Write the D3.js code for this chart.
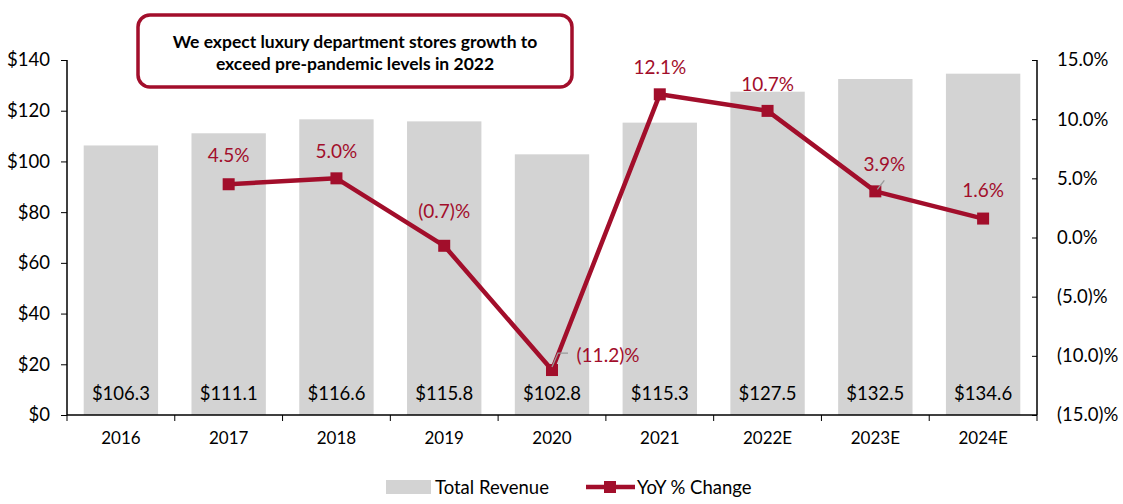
<!DOCTYPE html>
<html><head><meta charset="utf-8">
<script src="https://cdn.jsdelivr.net/npm/d3@7"></script>
<style>body{margin:0;background:#fff;} svg{display:block;} text{font-family:Lato,"Open Sans",sans-serif;}</style>
</head><body><svg id="c" width="1123" height="504"></svg>
<script>
const categories = ["2016","2017","2018","2019","2020","2021","2022E","2023E","2024E"];
const revenue = [106.3,111.1,116.6,115.8,102.8,115.3,127.5,132.5,134.6];
const yoyCats = ["2017","2018","2019","2020","2021","2022E","2023E","2024E"];
const yoy = [4.5,5.0,-0.7,-11.2,12.1,10.7,3.9,1.6];
const leftTicks = [0,20,40,60,80,100,120,140];
const rightTicks = [-15,-10,-5,0,5,10,15];
const calloutLines = ["We expect luxury department stores growth to","exceed pre-pandemic levels in 2022"];

const RED = "#A20E2B", GREY = "#D3D3D3";
const svg = d3.select("#c");
const L = 67, R = 1037, T = 60, B = 415;
const x = d3.scaleBand().domain(categories).range([L,R]).paddingInner(0.31).paddingOuter(0.155);
const xb = d3.scaleBand().domain(categories).range([L,R]);
const yL = d3.scaleLinear().domain([0,140]).range([B,T]);
const yR = d3.scaleLinear().domain([-15,15]).range([B,T]);
const fmtPct = v => v < 0 ? "(" + Math.abs(v).toFixed(1) + ")%" : v.toFixed(1) + "%";

// bars
svg.append("g").selectAll("rect").data(revenue).join("rect")
  .attr("x",(d,i)=>x(categories[i])).attr("width",x.bandwidth())
  .attr("y",d=>yL(d)).attr("height",d=>B-yL(d)).attr("fill",GREY);
svg.append("g").selectAll("text").data(revenue).join("text")
  .attr("x",(d,i)=>xb(categories[i])+xb.bandwidth()/2).attr("y",400)
  .attr("text-anchor","middle").attr("font-size",18.5).attr("fill","#000")
  .text(d=>"$"+d.toFixed(1));

// left axis
const gl = svg.append("g").attr("transform",`translate(${L},0)`)
  .call(d3.axisLeft(yL).tickValues(leftTicks).tickSize(6).tickPadding(11).tickFormat(d=>"$"+d));
// right axis (ticks inward)
const gr = svg.append("g").attr("transform",`translate(${R},0)`)
  .call(d3.axisRight(yR).tickValues(rightTicks).tickSizeInner(-5).tickSizeOuter(0).tickPadding(20).tickFormat(fmtPct));
// bottom axis
const gb = svg.append("g").attr("transform",`translate(0,${B})`)
  .call(d3.axisBottom(xb).tickSize(0).tickPadding(17));
gb.selectAll(".tick").append("line").attr("x1",-xb.bandwidth()/2).attr("x2",-xb.bandwidth()/2).attr("y1",0).attr("y2",6).attr("stroke","#000");
gb.append("line").attr("x1",R).attr("x2",R).attr("y1",0).attr("y2",6).attr("stroke","#000");
[gl,gr,gb].forEach(g=>{
  g.selectAll(".domain").attr("stroke","#000").attr("stroke-width",1.5);
  g.selectAll("line").attr("stroke","#000");
  g.selectAll("text").attr("font-size",18.5).attr("fill","#000").attr("font-family","Lato, 'Open Sans', sans-serif");
});
gl.select(".domain").attr("d",`M0,${T}V${B}`);
gr.select(".domain").attr("d",`M0,${T}V${B}`);
gb.select(".domain").attr("d",`M${L},0H${R}`);
gb.selectAll("text").attr("font-size",17);

// line
const px = c => xb(c)+xb.bandwidth()/2;
const line = d3.line().x((d,i)=>px(yoyCats[i])).y(d=>yR(d));
svg.append("path").datum(yoy).attr("d",line).attr("fill","none").attr("stroke",RED).attr("stroke-width",4.5).attr("stroke-linejoin","round");
svg.append("g").selectAll("rect").data(yoy).join("rect")
  .attr("x",(d,i)=>px(yoyCats[i])-6).attr("y",d=>yR(d)-6).attr("width",12).attr("height",12).attr("fill",RED);

// leader lines
const i20 = yoyCats.indexOf("2020"), i23 = yoyCats.indexOf("2023E");
svg.append("path").attr("d",`M${px("2020")},${yR(yoy[i20])-3} L${px("2020")+6},${yR(yoy[i20])-17} H${px("2020")+16}`).attr("fill","none").attr("stroke","#999").attr("stroke-width",1.3);
svg.append("path").attr("d",`M${px("2023E")+2},${yR(yoy[i23])-2} L${px("2023E")+9},${yR(yoy[i23])-11}`).attr("fill","none").attr("stroke","#999").attr("stroke-width",1.3);

// labels
const offs = {"2017":[0,-22],"2020":[56,-8],"2019":[0,-28],"2023E":[9,-20],"2024E":[0,-22]};
svg.append("g").selectAll("text").data(yoy).join("text")
  .attr("x",(d,i)=>px(yoyCats[i])+((offs[yoyCats[i]]||[0,-20])[0]))
  .attr("y",(d,i)=>yR(d)+((offs[yoyCats[i]]||[0,-20])[1]))
  .attr("text-anchor","middle").attr("font-size",19).attr("fill",RED)
  .text(d=>fmtPct(d));

// callout
svg.append("rect").attr("x",138).attr("y",15).attr("width",434).attr("height",72).attr("rx",12)
  .attr("fill","#fff").attr("stroke",RED).attr("stroke-width",3.5);
svg.append("g").selectAll("text").data(calloutLines).join("text")
  .attr("x",355).attr("y",(d,i)=>48+i*22).attr("text-anchor","middle")
  .attr("font-size",17.5).attr("font-weight","bold").attr("fill","#000").text(d=>d);

// legend
const lg = svg.append("g");
lg.append("rect").attr("x",386).attr("y",480).attr("width",45).attr("height",14).attr("fill",GREY);
lg.append("text").attr("x",435).attr("y",494).attr("font-size",18.5).text("Total Revenue");
lg.append("line").attr("x1",586).attr("x2",635).attr("y1",487).attr("y2",487).attr("stroke",RED).attr("stroke-width",4.5);
lg.append("rect").attr("x",604).attr("y",481).attr("width",12).attr("height",12).attr("fill",RED);
lg.append("text").attr("x",637).attr("y",494).attr("font-size",18.5).text("YoY % Change");
</script></body></html>
